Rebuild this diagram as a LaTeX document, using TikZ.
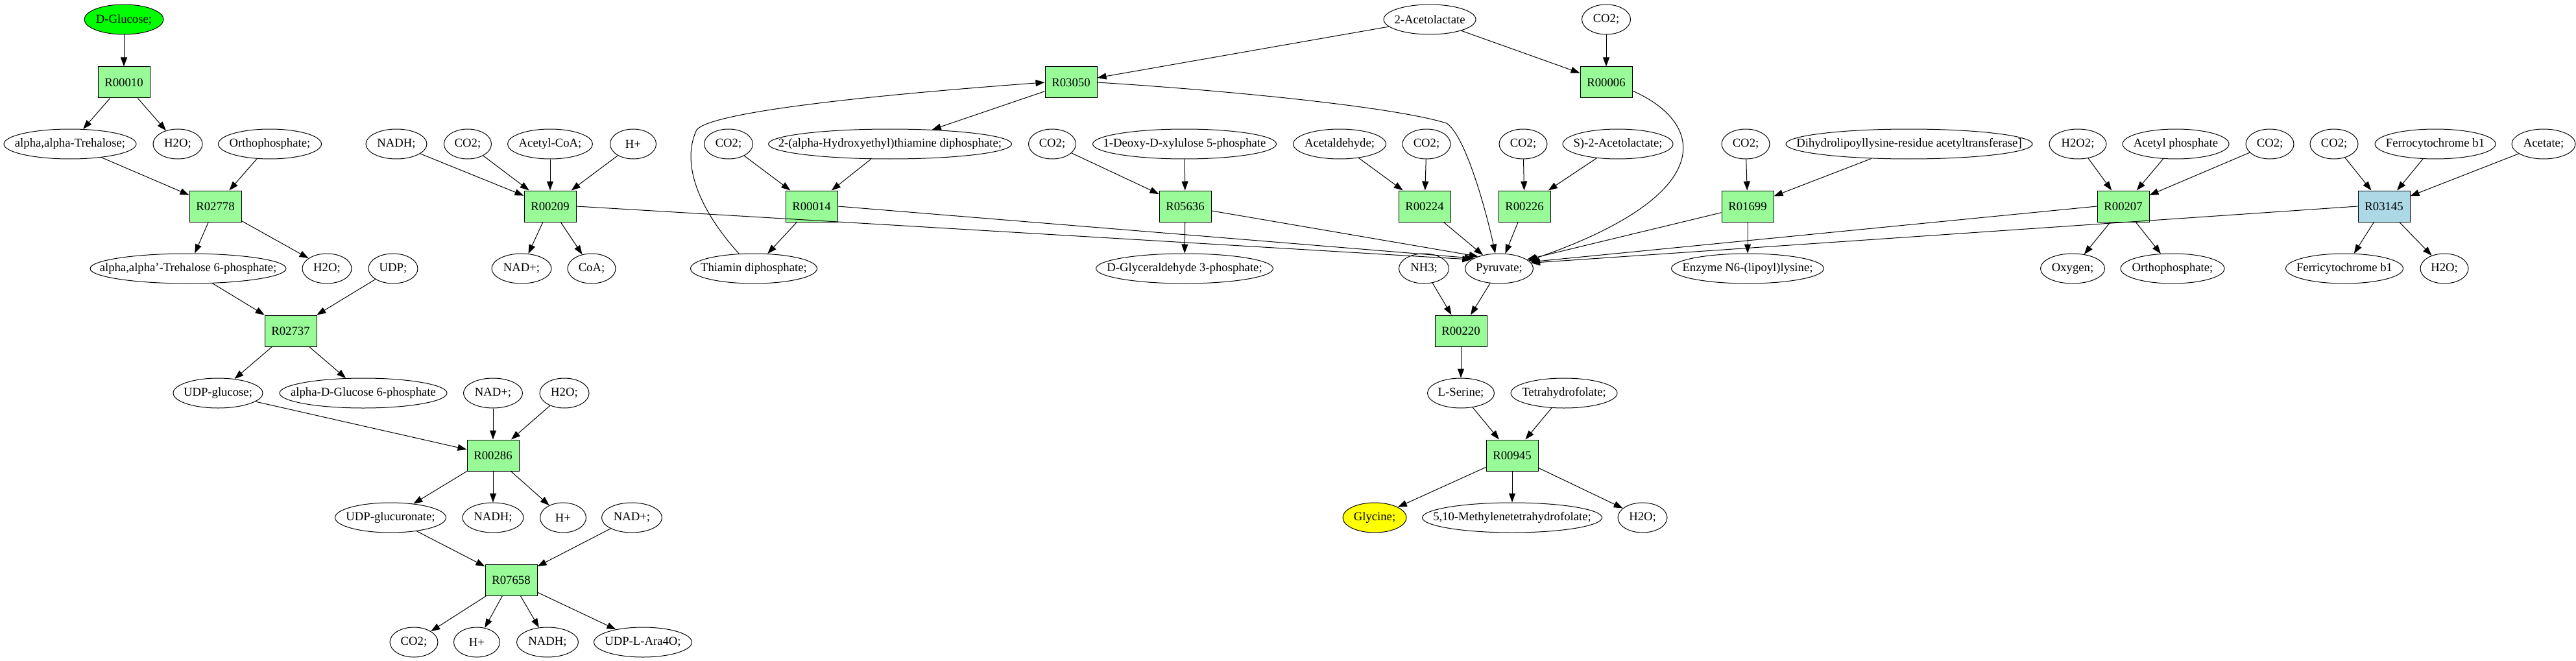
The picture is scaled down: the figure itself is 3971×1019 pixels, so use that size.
\documentclass[tikz,border=0pt]{standalone}
\usepackage{fontspec}
\setmainfont{Liberation Serif}
\usetikzlibrary{shapes.geometric,arrows.meta}
\newcommand{\mk}[1]{\makebox[0pt]{#1}}
\definecolor{pgreen}{HTML}{98FB98}
\definecolor{lblue}{HTML}{ADD8E6}
\definecolor{vgreen}{HTML}{00FF00}
\definecolor{vyellow}{HTML}{FFFF00}
\begin{document}
\begin{tikzpicture}[x=1pt,y=-1pt,line width=1pt,
  >={Triangle[length=14pt,width=10pt]},
  mol/.style={ellipse,draw,minimum height=46pt,inner sep=0pt,font=\fontsize{18.7}{22}\selectfont},
  rxn/.style={rectangle,draw,fill=pgreen,minimum width=80pt,minimum height=48pt,inner sep=0pt,font=\fontsize{18.7}{22}\selectfont},
  conn/.style={->}]
\useasboundingbox[fill=white] (0,0) rectangle (3971,1019);
% Row A
\node[mol,minimum width=122pt,fill=vgreen] (glc) at (191,30) {\mk{D-Glucose;}};
\node[mol,minimum width=142pt] (acl) at (2204,30) {\mk{2-Acetolactate}};
\node[mol,minimum width=75pt] (co2a) at (2476,30) {\mk{CO2;}};
% Row B
\node[rxn] (R00010) at (191,127) {R00010};
\node[rxn] (R03050) at (1651,127) {R03050};
\node[rxn] (R00006) at (2476,127) {R00006};
% Row C
\node[mol,minimum width=204pt] (tre) at (108,222) {\mk{alpha,alpha-Trehalose;}};
\node[mol,minimum width=76pt] (h2oa) at (274,222) {\mk{H2O;}};
\node[mol,minimum width=159pt] (ortho1) at (416,222) {\mk{Orthophosphate;}};
\node[mol,minimum width=94pt] (nadh1) at (611,222) {\mk{NADH;}};
\node[mol,minimum width=73pt] (co2b) at (721,222) {\mk{CO2;}};
\node[mol,minimum width=131pt] (acoa) at (848,222) {\mk{Acetyl-CoA;}};
\node[mol,minimum width=71pt] (hp1) at (976,222) {\mk{H+}};
\node[mol,minimum width=75pt] (co2c) at (1123,222) {\mk{CO2;}};
\node[mol,minimum width=375pt] (heth) at (1372,222) {\mk{2-(alpha-Hydroxyethyl)thiamine diphosphate;}};
\node[mol,minimum width=73pt] (co2d) at (1622,222) {\mk{CO2;}};
\node[mol,minimum width=283pt] (dxp) at (1826,222) {\mk{1-Deoxy-D-xylulose 5-phosphate}};
\node[mol,minimum width=143pt] (acald) at (2065,222) {\mk{Acetaldehyde;}};
\node[mol,minimum width=74pt] (co2e) at (2199,222) {\mk{CO2;}};
\node[mol,minimum width=74pt] (co2f) at (2348,222) {\mk{CO2;}};
\node[mol,minimum width=170pt] (sacl) at (2494,222) {\mk{S)-2-Acetolactate;}};
\node[mol,minimum width=74pt] (co2g) at (2691,222) {\mk{CO2;}};
\node[mol,minimum width=380pt] (dhl) at (2943,222) {\mk{Dihydrolipoyllysine-residue acetyltransferase]}};
\node[mol,minimum width=88pt] (h2o2) at (3203,222) {\mk{H2O2;}};
\node[mol,minimum width=164pt] (acp) at (3354,222) {\mk{Acetyl phosphate}};
\node[mol,minimum width=74pt] (co2h) at (3499,222) {\mk{CO2;}};
\node[mol,minimum width=74pt] (co2i) at (3598,222) {\mk{CO2;}};
\node[mol,minimum width=186pt] (fcb) at (3754,222) {\mk{Ferrocytochrome b1}};
\node[mol,minimum width=98pt] (acet) at (3921,222) {\mk{Acetate;}};
% Row D
\node[rxn] (R02778) at (332,318) {R02778};
\node[rxn] (R00209) at (848,318) {R00209};
\node[rxn] (R00014) at (1251,318) {R00014};
\node[rxn] (R05636) at (1827,318) {R05636};
\node[rxn] (R00224) at (2196,318) {R00224};
\node[rxn] (R00226) at (2350,318) {R00226};
\node[rxn] (R01699) at (2694,318) {R01699};
\node[rxn] (R00207) at (3273,318) {R00207};
\node[rxn,fill=lblue] (R03145) at (3675,318) {R03145};
% Row E
\node[mol,minimum width=302pt] (tre6p) at (290,414) {\mk{alpha,alpha'-Trehalose 6-phosphate;}};
\node[mol,minimum width=76pt] (h2ob) at (504,414) {\mk{H2O;}};
\node[mol,minimum width=76pt] (udp) at (606,414) {\mk{UDP;}};
\node[mol,minimum width=92pt] (nadp1) at (804,414) {\mk{NAD+;}};
\node[mol,minimum width=74pt] (coa) at (912,414) {\mk{CoA;}};
\node[mol,minimum width=195pt] (tpp) at (1162,414) {\mk{Thiamin diphosphate;}};
\node[mol,minimum width=273pt] (gap) at (1826,414) {\mk{D-Glyceraldehyde 3-phosphate;}};
\node[mol,minimum width=77pt] (nh3) at (2195,414) {\mk{NH3;}};
\node[mol,minimum width=105pt] (pyr) at (2311,414) {\mk{Pyruvate;}};
\node[mol,minimum width=235pt] (enz) at (2694,414) {\mk{Enzyme N6-(lipoyl)lysine;}};
\node[mol,minimum width=99pt] (oxy) at (3195,414) {\mk{Oxygen;}};
\node[mol,minimum width=160pt] (ortho2) at (3349,414) {\mk{Orthophosphate;}};
\node[mol,minimum width=181pt] (fricb) at (3614,414) {\mk{Ferricytochrome b1}};
\node[mol,minimum width=74pt] (h2oc) at (3768,414) {\mk{H2O;}};
% Row F
\node[rxn] (R02737) at (448,510) {R02737};
\node[rxn] (R00220) at (2252,510) {R00220};
% Row G
\node[mol,minimum width=138pt] (udpg) at (336,606) {\mk{UDP-glucose;}};
\node[mol,minimum width=258pt] (g6p) at (560,606) {\mk{alpha-D-Glucose 6-phosphate}};
\node[mol,minimum width=91pt] (nadp2) at (760,606) {\mk{NAD+;}};
\node[mol,minimum width=76pt] (h2od) at (870,606) {\mk{H2O;}};
\node[mol,minimum width=103pt] (ser) at (2252,606) {\mk{L-Serine;}};
\node[mol,minimum width=164pt] (thf) at (2411,606) {\mk{Tetrahydrofolate;}};
% Row H
\node[rxn] (R00286) at (760,702) {R00286};
\node[rxn] (R00945) at (2331,702) {R00945};
% Row I
\node[mol,minimum width=171pt] (udpga) at (602,798) {\mk{UDP-glucuronate;}};
\node[mol,minimum width=94pt] (nadh2) at (760,798) {\mk{NADH;}};
\node[mol,minimum width=71pt] (hp2) at (868,798) {\mk{H+}};
\node[mol,minimum width=93pt] (nadp3) at (974,798) {\mk{NAD+;}};
\node[mol,minimum width=98pt,fill=vyellow] (gly) at (2119,798) {\mk{Glycine;}};
\node[mol,minimum width=277pt] (mthf) at (2331,798) {\mk{5,10-Methylenetetrahydrofolate;}};
\node[mol,minimum width=76pt] (h2oe) at (2532,798) {\mk{H2O;}};
% Row J
\node[rxn] (R07658) at (788,894) {R07658};
% Row K
\node[mol,minimum width=74pt] (co2j) at (638,990) {\mk{CO2;}};
\node[mol,minimum width=71pt] (hp3) at (735,990) {\mk{H+}};
\node[mol,minimum width=95pt] (nadh3) at (844,990) {\mk{NADH;}};
\node[mol,minimum width=151pt] (ara) at (991,990) {\mk{UDP-L-Ara4O;}};
% Edges: left branch
\draw[conn] (glc) -- (R00010);
\draw[conn] (R00010) -- (tre);
\draw[conn] (R00010) -- (h2oa);
\draw[conn] (tre) -- (R02778);
\draw[conn] (ortho1) -- (R02778);
\draw[conn] (R02778) -- (tre6p);
\draw[conn] (R02778) -- (h2ob);
\draw[conn] (tre6p) -- (R02737);
\draw[conn] (udp) -- (R02737);
\draw[conn] (R02737) -- (udpg);
\draw[conn] (R02737) -- (g6p);
\draw[conn] (udpg) -- (R00286);
\draw[conn] (nadp2) -- (R00286);
\draw[conn] (h2od) -- (R00286);
\draw[conn] (R00286) -- (udpga);
\draw[conn] (R00286) -- (nadh2);
\draw[conn] (R00286) -- (hp2);
\draw[conn] (udpga) -- (R07658);
\draw[conn] (nadp3) -- (R07658);
\draw[conn] (R07658) -- (co2j);
\draw[conn] (R07658) -- (hp3);
\draw[conn] (R07658) -- (nadh3);
\draw[conn] (R07658) -- (ara);
% R00209
\draw[conn] (nadh1) -- (R00209);
\draw[conn] (co2b) -- (R00209);
\draw[conn] (acoa) -- (R00209);
\draw[conn] (hp1) -- (R00209);
\draw[conn] (R00209) -- (nadp1);
\draw[conn] (R00209) -- (coa);
\draw[conn] (R00209.east) -- (pyr.162);
% R00014
\draw[conn] (co2c) -- (R00014);
\draw[conn] (heth) -- (R00014);
\draw[conn] (R00014) -- (tpp);
\draw[conn] (R00014.east) -- (pyr.158);
% R03050
\draw[conn] (tpp.135) .. controls (1075,320) and (1050,250) .. (1074,200)
  .. controls (1095,175) and (1300,150) .. (R03050.west);
\draw[conn] (acl) -- (R03050);
\draw[conn] (R03050) -- (heth);
\draw[conn] (R03050.east) .. controls (1900,140) and (2150,165) .. (2230,190)
  .. controls (2260,210) and (2292,330) .. ([xshift=-6pt]pyr.north);
% R05636
\draw[conn] (co2d) -- (R05636);
\draw[conn] (dxp) -- (R05636);
\draw[conn] (R05636) -- (gap);
\draw[conn] (R05636) -- (pyr.150);
% R00224
\draw[conn] (acald) -- (R00224);
\draw[conn] (co2e) -- (R00224);
\draw[conn] (R00224) -- (pyr);
% R00006
\draw[conn] (acl) -- (R00006);
\draw[conn] (co2a) -- (R00006);
\draw[conn] ([yshift=-13pt]R00006.east) .. controls (2630,190) and (2650,300) .. (pyr.15);
% R00226
\draw[conn] (co2f) -- (R00226);
\draw[conn] (sacl) -- (R00226);
\draw[conn] (R00226) -- (pyr);
% R01699
\draw[conn] (co2g) -- (R01699);
\draw[conn] (dhl) -- (R01699);
\draw[conn] (R01699) -- (enz);
\draw[conn] (R01699) -- (pyr.18);
% R00207
\draw[conn] (h2o2) -- (R00207);
\draw[conn] (acp) -- (R00207);
\draw[conn] (co2h) -- (R00207);
\draw[conn] (R00207) -- (oxy);
\draw[conn] (R00207) -- (ortho2);
\draw[conn] (R00207.west) -- (pyr.12);
% R03145
\draw[conn] (co2i) -- (R03145);
\draw[conn] (fcb) -- (R03145);
\draw[conn] (acet) -- (R03145);
\draw[conn] (R03145) -- (fricb);
\draw[conn] (R03145) -- (h2oc);
\draw[conn] (R03145.west) -- (pyr.10);
% R00220 / R00945
\draw[conn] (nh3) -- (R00220);
\draw[conn] (pyr) -- (R00220);
\draw[conn] (R00220) -- (ser);
\draw[conn] (ser) -- (R00945);
\draw[conn] (thf) -- (R00945);
\draw[conn] (R00945) -- (gly);
\draw[conn] (R00945) -- (mthf);
\draw[conn] (R00945) -- (h2oe);
\end{tikzpicture}
\end{document}
